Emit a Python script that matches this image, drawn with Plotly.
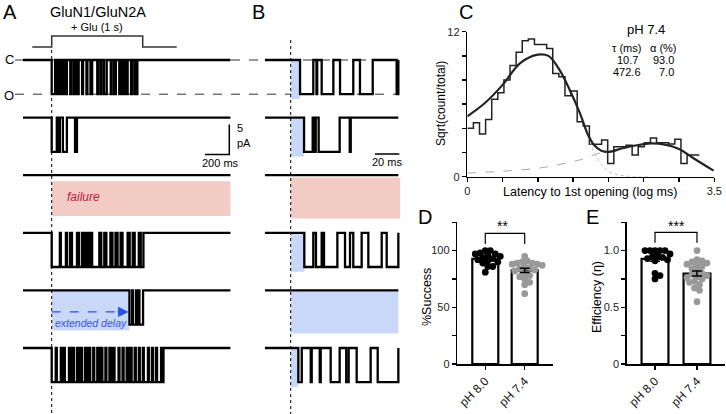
import numpy as np
import plotly.graph_objects as go

W, H = 726, 414
FONT = "Liberation Sans, Arial, sans-serif"

# ---------------- DATA ----------------
# Panel A: open intervals (ms after glutamate onset) for six sweeps
a_open_ms = [
    [(0, 28), (42, 50), (64, 71), (83, 92), (111, 125), (153, 161), (181, 189), (203, 222),
     (250, 258), (286, 294), (319, 333), (375, 383), (403, 411), (431, 453), (486, 494),
     (514, 528), (556, 564), (583, 592), (611, 625), (653, 661), (681, 689), (694, 705)],
    [(0, 42), (58, 67), (92, 125), (192, 208)],
    [],
    [(0, 67), (75, 117), (125, 150), (167, 208), (225, 250), (267, 283), (300, 317), (333, 392),
     (408, 433), (450, 483), (500, 525), (542, 567), (583, 625), (642, 667), (683, 717), (733, 755)],
    [(640, 662), (670, 695), (703, 712), (722, 752)],
    [(0, 33), (42, 75), (83, 100), (108, 142), (150, 167), (183, 208), (217, 233), (250, 275),
     (283, 300), (317, 342), (350, 375), (383, 400), (417, 442), (450, 475), (483, 500),
     (517, 550), (558, 583), (592, 617), (625, 642), (658, 683), (692, 717), (725, 750),
     (758, 792), (800, 825), (833, 858), (867, 900), (908, 920)],
]
a_highlight = [None, None, "failure", None, "delay", None]
a_span_ms = (-236, 1471)
glu_on_ms = (0, 749)
glu_line_ms = (-160, 1029)
amp_pA = 5.7

# Panel B: first-latency close-ups (ms after onset)
b_open_ms = [
    [(7.7, 18.6), (21.2, 21.8), (25.5, 35.1), (40.6, 51.5), (57.0, 67.5), (87.2, 88.6)],
    [(11.0, 18.1), (19.8, 20.6), (23.0, 40.3), (48.6, 49.4)],
    [],
    [(11.2, 18.6), (20.8, 25.5), (27.4, 38.4), (44.7, 48.8), (51.5, 58.4), (63.9, 74.9), (79.0, 88.6)],
    [],
    [(6.3, 9.1), (16.5, 17.3), (23.9, 24.7), (32.9, 40.3), (45.7, 47.7), (54.3, 65.8), (71.6, 88.6)],
]
b_failure = [False, False, True, False, False, False]
b_span_ms = (-21.2, 88.6)

# Panel C: latency histogram (sqrt of fraction) and fit
c_bin_width = 0.0865
c_hist = [4.0, 4.47, 3.53, 4.74, 6.4, 6.95, 8.0, 9.2, 10.3, 11.26, 11.4, 10.95, 10.95, 10.6,
          8.55, 8.28, 6.7, 7.1, 4.55, 4.2, 2.68, 2.68, 3.03, 1.1, 2.48, 2.48, 2.6, 1.8,
          2.48, 2.8, 3.2, 2.8, 2.8, 2.7, 3.1, 1.1, 1.8, 1.8]
c_fit_x = [0, 0.25, 0.5, 0.75, 1.0, 1.15, 1.3, 1.45, 1.6, 1.7, 1.8, 1.9, 2.0, 2.2, 2.4, 2.6,
           2.8, 3.0, 3.2, 3.49]
c_fit_y = [5.0, 6.1, 7.6, 9.4, 10.1, 10.0, 8.9, 7.2, 5.2, 3.6, 2.6, 2.15, 2.05, 2.35, 2.6,
           2.75, 2.65, 2.3, 1.55, 0.5]
c_fast_x = [1.6, 1.7, 1.8, 1.9, 2.0, 2.1, 2.3, 2.6]
c_fast_y = [5.2, 3.5, 2.0, 1.0, 0.45, 0.2, 0.03, 0.0]
c_slow_x = [0, 0.5, 1.0, 1.3, 1.6, 1.9, 2.0]
c_slow_y = [0.3, 0.45, 0.7, 1.0, 1.4, 2.0, 2.05]
tau_ms = ["10.7", "472.6"]
alpha_pct = ["93.0", "7.0"]

# Panels D, E
groups = ["pH 8.0", "pH 7.4"]
success_80 = [100, 100, 98, 97, 97, 96, 95, 94, 93, 92, 91, 90, 89, 86, 86, 81]
success_74 = [95, 91, 90, 89, 89, 88, 88, 87, 86, 85, 84, 83, 82, 80, 78, 77, 75, 72, 70, 62]
eff_80 = [1.0, 1.0, 1.0, 1.0, 1.0, 0.97, 0.96, 0.95, 0.94, 0.93, 0.92, 0.91, 0.80, 0.78, 0.75]
eff_74 = [1.0, 0.92, 0.91, 0.9, 0.89, 0.88, 0.87, 0.86, 0.84, 0.82, 0.8, 0.79, 0.78, 0.77,
          0.76, 0.75, 0.73, 0.72, 0.7, 0.67, 0.65, 0.55]

# ---------------- LAYOUT HELPERS ----------------
def px(x):
    return x / W

def py(y):
    return 1 - y / H

A_MS_PER_PX = 8.23
B_MS_PER_PX = 0.823
ONSET_A_PX = 51.7
ONSET_B_PX = 290.7
PA_PER_PX = 1 / 6.0
first_base = -10.0
spacing = 9.6
TRACE_W = 2.3

fig = go.Figure()
shapes = []
ann = []

def text(x, y, s, size=11, color="black", xanchor="center", yanchor="middle", angle=0, italic=False):
    t = f"<i>{s}</i>" if italic else s
    ann.append(dict(x=px(x), y=py(y), xref="paper", yref="paper", text=t, showarrow=False,
                    xanchor=xanchor, yanchor=yanchor, textangle=angle,
                    font=dict(family=FONT, size=size, color=color)))

def step(intervals, span, base, amp):
    xs, ys = [span[0]], [base]
    for s, e in intervals:
        xs += [s, s, e, e]
        ys += [base, base - amp, base - amp, base]
    xs.append(span[1]); ys.append(base)
    return xs, ys

PINK = "#F3CBC5"
BLUE = "#C9D7F8"

# ---- Panel A & B traces ----
for i in range(6):
    base = first_base - i * spacing
    if a_highlight[i] == "failure":
        shapes.append(dict(type="rect", xref="x", yref="y", x0=0, x1=a_span_ms[1],
                           y0=base - 1.0, y1=base - 6.8, fillcolor=PINK, line_width=0, layer="below"))
    elif a_highlight[i] == "delay":
        shapes.append(dict(type="rect", xref="x", yref="y", x0=0, x1=a_open_ms[i][0][0],
                           y0=base - 0.1, y1=base - 6.7, fillcolor=BLUE, line_width=0, layer="below"))
    xs, ys = step(a_open_ms[i], a_span_ms, base, amp_pA)
    fig.add_trace(go.Scatter(x=xs, y=ys, mode="lines", xaxis="x", yaxis="y",
                             line=dict(color="black", width=TRACE_W), hoverinfo="skip", showlegend=False))
    if b_failure[i]:
        shapes.append(dict(type="rect", xref="x2", yref="y", x0=0, x1=b_span_ms[1] + 1.5,
                           y0=base - 0.4, y1=base - 7.2, fillcolor=PINK, line_width=0, layer="below"))
    else:
        lat = b_open_ms[i][0][0] if b_open_ms[i] else b_span_ms[1]
        y1 = base - 6.5 if b_open_ms[i] else base - 7.2
        shapes.append(dict(type="rect", xref="x2", yref="y", x0=0, x1=lat,
                           y0=base - 0.2, y1=y1, fillcolor=BLUE, line_width=0, layer="below"))
    xs, ys = step(b_open_ms[i], b_span_ms, base, amp_pA)
    fig.add_trace(go.Scatter(x=xs, y=ys, mode="lines", xaxis="x2", yaxis="y",
                             line=dict(color="black", width=TRACE_W), hoverinfo="skip", showlegend=False))

# C / O dashed levels
for lvl in (first_base, first_base - amp_pA):
    shapes.append(dict(type="line", xref="paper", yref="y", x0=px(15), x1=px(398), y0=lvl, y1=lvl,
                       line=dict(color="#333", width=1, dash="dash"), layer="below"))
text(9, 60, "C", 13)
text(9, 95, "O", 13)

# onset dotted lines
shapes.append(dict(type="line", xref="x", yref="y", x0=0, x1=0, y0=-50 * PA_PER_PX, y1=-69,
                   line=dict(color="black", width=1, dash="dot")))
shapes.append(dict(type="line", xref="x2", yref="y", x0=0, x1=0, y0=-40 * PA_PER_PX, y1=-69,
                   line=dict(color="black", width=1, dash="dot")))

# glutamate step
g_low, g_high = -47 * PA_PER_PX, -36 * PA_PER_PX
fig.add_trace(go.Scatter(x=[glu_line_ms[0], glu_on_ms[0], glu_on_ms[0], glu_on_ms[1], glu_on_ms[1], glu_line_ms[1]],
                         y=[g_low, g_low, g_high, g_high, g_low, g_low], mode="lines", xaxis="x", yaxis="y",
                         line=dict(color="#333", width=1.5), hoverinfo="skip", showlegend=False))
text(97, 27, "+ Glu (1 s)", 11)
text(98, 12, "GluN1/GluN2A", 14.5)

# scale bars A (5 pA, 200 ms)
sb_x = (229.3 - ONSET_A_PX) * A_MS_PER_PX
sb_y = -154.5 * PA_PER_PX
fig.add_trace(go.Scatter(x=[sb_x, sb_x, sb_x - 200], y=[sb_y + 5, sb_y, sb_y], mode="lines",
                         xaxis="x", yaxis="y", line=dict(color="black", width=1.5),
                         hoverinfo="skip", showlegend=False))
text(235, 128, "5", 11, xanchor="left")
text(235, 143, "pA", 11, xanchor="left")
text(220, 163, "200 ms", 11)
# scale bar B (20 ms)
sbb_x = (399.3 - ONSET_B_PX) * B_MS_PER_PX
fig.add_trace(go.Scatter(x=[sbb_x - 20, sbb_x], y=[-154 * PA_PER_PX] * 2, mode="lines",
                         xaxis="x2", yaxis="y", line=dict(color="black", width=1.5),
                         hoverinfo="skip", showlegend=False))
text(387, 162, "20 ms", 11)

text(65, 197, "failure", 12, color="#C0183C", xanchor="left", italic=True)
text(53, 323, "extended delay", 10.5, color="#3355EE", xanchor="left", italic=True)
# dashed arrow
arr_y = first_base - 4 * spacing - 21.5 * PA_PER_PX
fig.add_trace(go.Scatter(x=[0, a_open_ms[4][0][0] - 40], y=[arr_y, arr_y], mode="lines", xaxis="x", yaxis="y",
                         line=dict(color="#2B50E8", width=1.2, dash="dash"), hoverinfo="skip", showlegend=False))
ann.append(dict(x=a_open_ms[4][0][0] - 8, y=arr_y, ax=a_open_ms[4][0][0] - 110, ay=arr_y, xref="x", yref="y",
                axref="x", ayref="y", text="", showarrow=True, arrowhead=2, arrowsize=1.6, arrowwidth=1.3,
                arrowcolor="#2B50E8"))

# ---- Panel C ----
edges = np.arange(len(c_hist) + 1) * c_bin_width
fig.add_trace(go.Scatter(x=list(edges), y=c_hist + [c_hist[-1]], mode="lines", line_shape="hv",
                         xaxis="x3", yaxis="y3", line=dict(color="#222", width=1.5),
                         hoverinfo="skip", showlegend=False))
fig.add_trace(go.Scatter(x=c_slow_x, y=c_slow_y, mode="lines", line_shape="spline", xaxis="x3", yaxis="y3",
                         line=dict(color="#aaa", width=1, dash="dash"), hoverinfo="skip", showlegend=False))
fig.add_trace(go.Scatter(x=c_fast_x, y=c_fast_y, mode="lines", line_shape="spline", xaxis="x3", yaxis="y3",
                         line=dict(color="#bbb", width=1, dash="dot"), hoverinfo="skip", showlegend=False))
fig.add_trace(go.Scatter(x=c_fit_x, y=c_fit_y, mode="lines", line_shape="spline", xaxis="x3", yaxis="y3",
                         line=dict(color="#222", width=2.2), hoverinfo="skip", showlegend=False))
text(646, 30, "pH 7.4", 13)
text(626, 48, "τ (ms)", 11)
text(663, 48, "α (%)", 11)
for k in range(2):
    text(627, 60 + 12 * k, tau_ms[k], 11)
    text(676, 60 + 12 * k, alpha_pct[k], 11, xanchor="right")
text(590, 192, "Latency to 1st opening (log ms)", 12.5)
text(441, 104, "Sqrt(count/total)", 12, angle=-90)

# ---- Panels D & E ----
def swarm(vals, center, xppu, yppu, d=4.6, step_px=2.5):
    vals = np.asarray(vals, float)
    order = np.argsort(-vals)
    placed = []
    xs = np.zeros(len(vals))
    for i in order:
        yp = vals[i] * yppu
        for k in range(60):
            off = ((k + 1) // 2) * step_px * (1 if k % 2 else -1)
            if all((off - ox) ** 2 + (yp - oy) ** 2 >= d * d for ox, oy in placed):
                break
        placed.append((off, yp))
        xs[i] = center + off / xppu
    return xs

def bar_panel(xa, ya, d80, d74, xppu, yppu, bw):
    means = [np.mean(d80), np.mean(d74)]
    sems = [np.std(d80, ddof=1) / np.sqrt(len(d80)), np.std(d74, ddof=1) / np.sqrt(len(d74))]
    fig.add_trace(go.Bar(x=[0, 1], y=means, width=bw, xaxis=xa, yaxis=ya,
                         marker=dict(color="white", line=dict(color="black", width=2.2)),
                         hoverinfo="skip", showlegend=False))
    for j, (dat, col) in enumerate([(d80, "black"), (d74, "#999999")]):
        fig.add_trace(go.Scatter(x=swarm(dat, j, xppu, yppu), y=dat, mode="markers", xaxis=xa, yaxis=ya,
                                 marker=dict(color=col, size=6.8, line_width=0),
                                 hoverinfo="skip", showlegend=False))
    fig.add_trace(go.Scatter(x=[0, 1], y=means, mode="markers", xaxis=xa, yaxis=ya,
                             marker=dict(size=0.1, color="rgba(0,0,0,0)"),
                             error_y=dict(type="data", array=sems, color="black", thickness=1.5, width=5),
                             hoverinfo="skip", showlegend=False))

D_YPPU = (364 - 250.7) / 100
E_YPPU = (364 - 250.7) / 1.0
bar_panel("x4", "y4", success_80, success_74, 39.4, D_YPPU, 0.66)
bar_panel("x5", "y5", eff_80, eff_74, 42.0, E_YPPU, 0.64)

# brackets & stars
for xa, ya, top, leg in (("x4", "y4", 115.2, 105.8), ("x5", "y5", 1.16, 1.07)):
    fig.add_trace(go.Scatter(x=[0, 0, 1, 1], y=[leg, top, top, leg], mode="lines", xaxis=xa, yaxis=ya,
                             line=dict(color="black", width=1.2), hoverinfo="skip", showlegend=False))
text(503, 226, "**", 14)
text(676, 226, "***", 14)
text(427, 297, "%Success", 12.5, angle=-90)
text(597, 297, "Efficiency (η)", 12.5, angle=-90)

# panel letters
for lx, ly, L in ((10, 12, "A"), (258, 12, "B"), (466, 12, "C"), (425, 217, "D"), (592, 217, "E")):
    text(lx, ly, L, 20)

# ---------------- AXES ----------------
hidden = dict(visible=False, showgrid=False, zeroline=False, fixedrange=True)
axcommon = dict(showline=True, linecolor="black", linewidth=1.5, ticks="outside", ticklen=4, tickwidth=1.5,
                tickcolor="black", showgrid=False, zeroline=False, automargin=False)
yfont = dict(tickfont=dict(family=FONT, size=11, color="#222"))
xfont = dict(tickfont=dict(family=FONT, size=12, color="#111"))

layout = dict(
    width=W, height=H, margin=dict(l=0, r=0, t=0, b=0),
    paper_bgcolor="white", plot_bgcolor="rgba(0,0,0,0)",
    font=dict(family=FONT, color="black"),
    xaxis=dict(domain=[0, px(250)], range=[(0 - ONSET_A_PX) * A_MS_PER_PX, (250 - ONSET_A_PX) * A_MS_PER_PX], **hidden),
    yaxis=dict(domain=[0, 1], range=[-H * PA_PER_PX, 0], **hidden),
    xaxis2=dict(domain=[px(252), px(410)], range=[(252 - ONSET_B_PX) * B_MS_PER_PX, (410 - ONSET_B_PX) * B_MS_PER_PX],
                anchor="y", **hidden),
    xaxis3=dict(domain=[px(467.3), px(714.3)], range=[0, 3.5], anchor="y3",
                tickvals=list(np.arange(0, 3.51, 0.5)), ticktext=["0", "", "", "", "", "", "", "3.5"],
                **axcommon, **yfont),
    yaxis3=dict(domain=[py(176.7), py(31.7)], range=[0, 12], anchor="x3",
                tickvals=list(range(0, 13, 2)), ticktext=["0", "", "", "", "", "", "12"], **axcommon, **yfont),
    xaxis4=dict(domain=[px(457.3), px(553.3)], range=[-0.71, 1.726], anchor="y4",
                tickvals=[0, 1], ticktext=groups, tickangle=-45, **axcommon, **xfont),
    yaxis4=dict(domain=[py(364), py(221.7)], range=[0, 125.5], anchor="x4",
                tickvals=[0, 25, 50, 75, 100, 125], ticktext=["0", "", "50", "", "100", ""], **axcommon, **yfont),
    xaxis5=dict(domain=[px(626.7), px(725)], range=[-0.674, 1.667], anchor="y5",
                tickvals=[0, 1], ticktext=groups, tickangle=-45, **axcommon, **xfont),
    yaxis5=dict(domain=[py(364), py(221.7)], range=[0, 1.255], anchor="x5",
                tickvals=[0, 0.25, 0.5, 0.75, 1.0, 1.25], ticktext=["0", "", "0.5", "", "1.0", ""],
                **axcommon, **yfont),
    shapes=shapes, annotations=ann, bargap=0,
)
fig.update_layout(**layout)
fig.write_html("out.html", config={"displayModeBar": False, "staticPlot": True},
               post_script="document.body.style.margin='0';")
